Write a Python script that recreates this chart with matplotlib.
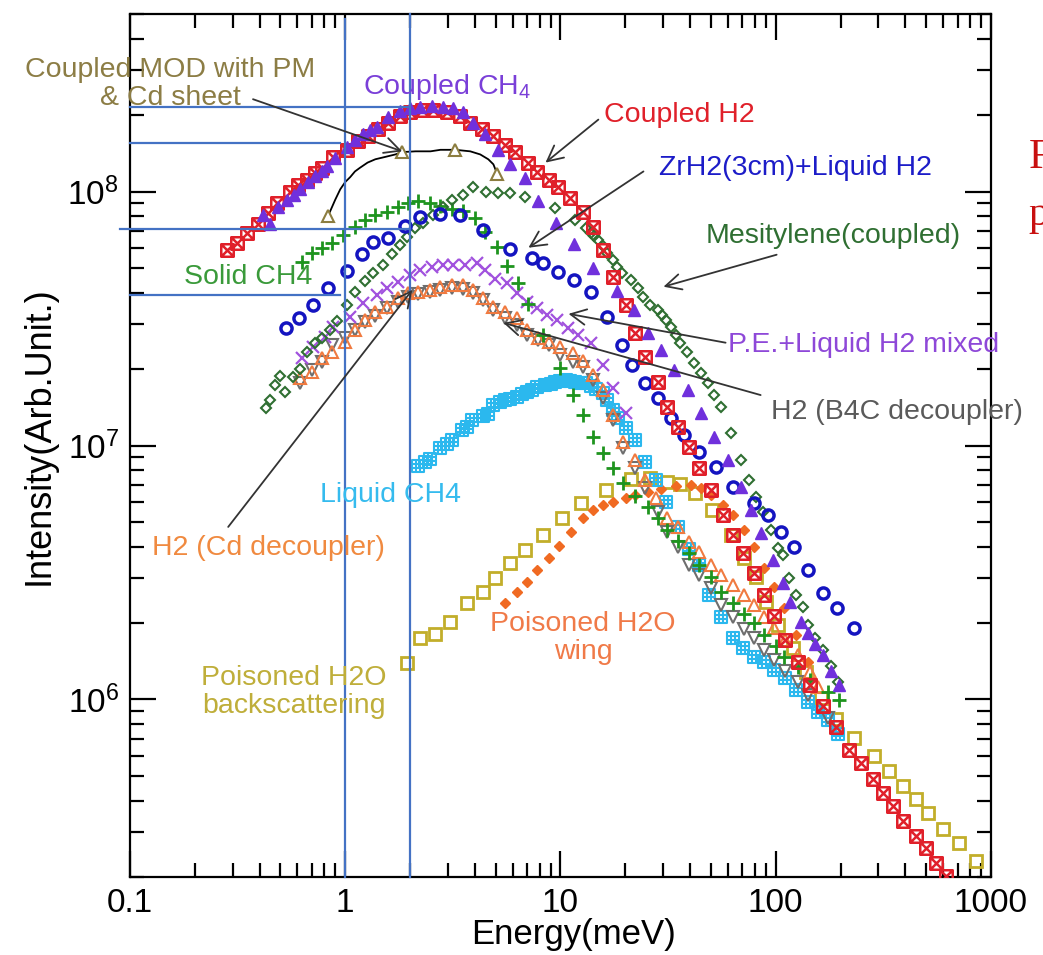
import matplotlib
matplotlib.use("Agg")
import matplotlib.pyplot as plt
from matplotlib.path import Path

plt.rcParams['font.family'] = ['Liberation Sans', 'DejaVu Sans']

# ---- spectra: energy (meV) / intensity (arb. unit) ----
coupled_h2_e = [0.283, 0.315, 0.350, 0.394, 0.438, 0.483, 0.555, 0.604, 0.666, 0.725,
                0.782, 0.880, 1.02, 1.15, 1.28, 1.42, 1.58, 1.80, 2.00, 2.28,
                2.57, 2.98, 3.43, 3.81, 4.34, 4.88, 5.55, 6.18, 7.03, 7.81,
                8.80, 9.79, 11.1, 12.7, 14.1, 15.7, 17.5, 20.1, 22.3, 24.8,
                28.3, 31.1, 35.0, 39.4, 43.8, 49.9, 56.7, 63.1, 70.3, 79.0,
                87.9, 97.9, 111, 127, 145, 166, 190, 219, 248, 283,
                315, 350, 390, 448, 499, 555, 618]
coupled_h2_i = [5.90e7, 6.30e7, 6.89e7, 7.48e7, 8.26e7, 9.05e7, 1.00e8, 1.06e8, 1.11e8, 1.18e8,
                1.24e8, 1.37e8, 1.46e8, 1.58e8, 1.65e8, 1.76e8, 1.87e8, 1.98e8, 2.05e8, 2.09e8,
                2.09e8, 2.05e8, 1.98e8, 1.87e8, 1.76e8, 1.65e8, 1.53e8, 1.43e8, 1.30e8, 1.19e8,
                1.11e8, 1.04e8, 9.47e7, 8.34e7, 7.28e7, 5.90e7, 4.62e7, 3.58e7, 2.78e7, 2.23e7,
                1.78e7, 1.42e7, 1.18e7, 9.87e6, 8.15e6, 6.67e6, 5.32e6, 4.44e6, 3.77e6, 3.14e6,
                2.57e6, 2.14e6, 1.71e6, 1.40e6, 1.14e6, 9.46e5, 7.76e5, 6.30e5, 5.60e5, 4.88e5,
                4.30e5, 3.82e5, 3.33e5, 2.91e5, 2.61e5, 2.28e5, 2.02e5]

coupled_ch4_e = [0.416, 0.448, 0.488, 0.537, 0.579, 0.618, 0.673, 0.725, 0.782, 0.825,
                 0.899, 1.02, 1.11, 1.21, 1.31, 1.41, 1.58, 1.80, 2.00, 2.23,
                 2.54, 2.86, 3.18, 3.54, 3.94, 4.48, 5.15, 5.85, 6.87, 7.90,
                 9.58, 11.6, 14.2, 18.4, 21.9, 25.4, 29.2, 33.6, 39.0, 44.8,
                 51.5, 59.8, 68.8, 76.5, 85.1, 96.8, 108, 117, 131, 142,
                 153, 166, 180, 196]
coupled_ch4_i = [8.11e7, 7.48e7, 8.73e7, 9.29e7, 9.73e7, 1.02e8, 1.09e8, 1.15e8, 1.21e8, 1.26e8,
                 1.36e8, 1.50e8, 1.60e8, 1.68e8, 1.74e8, 1.80e8, 1.96e8, 2.07e8, 2.13e8, 2.16e8,
                 2.18e8, 2.16e8, 2.14e8, 2.05e8, 1.87e8, 1.68e8, 1.46e8, 1.28e8, 1.13e8, 9.14e7,
                 7.55e7, 6.24e7, 5.02e7, 4.07e7, 3.43e7, 2.78e7, 2.38e7, 1.99e7, 1.66e7, 1.34e7,
                 1.08e7, 8.78e6, 6.86e6, 5.57e6, 4.52e6, 3.53e6, 2.87e6, 2.41e6, 2.01e6, 1.82e6,
                 1.66e6, 1.49e6, 1.30e6, 1.14e6]

mod_pm_e = [0.834, 0.899, 0.948, 1.0, 1.055, 1.11, 1.17, 1.27, 1.38, 1.54, 1.71,
            1.84, 2.12, 2.49, 2.77, 3.25, 3.81, 4.24, 4.62, 4.88, 5.09]
mod_pm_i = [8.04e7, 9.29e7, 1.02e8, 1.09e8, 1.14e8, 1.20e8, 1.24e8, 1.30e8, 1.34e8, 1.37e8, 1.40e8,
            1.43e8, 1.44e8, 1.44e8, 1.46e8, 1.46e8, 1.44e8, 1.40e8, 1.34e8, 1.28e8, 1.17e8]
mod_pm_marks = [0, 11, 15, 20]

zrh2_e = [0.532, 0.611, 0.710, 0.834, 1.02, 1.20, 1.35, 1.58, 1.90, 2.23,
          2.77, 3.43, 4.38, 5.85, 7.41, 8.33, 9.79, 11.5, 13.8, 16.5,
          19.4, 21.6, 24.8, 28.3, 32.5, 37.3, 43.8, 52.6, 63.1, 79.0,
          91.8, 106, 121, 141, 166, 192, 231]
zrh2_i = [2.91e7, 3.18e7, 3.58e7, 4.18e7, 4.88e7, 5.69e7, 6.35e7, 6.59e7, 7.35e7, 7.97e7,
          8.19e7, 8.11e7, 7.08e7, 5.96e7, 5.49e7, 5.25e7, 4.83e7, 4.50e7, 4.03e7, 3.21e7,
          2.49e7, 2.08e7, 1.77e7, 1.54e7, 1.28e7, 1.10e7, 9.42e6, 8.22e6, 6.86e6, 5.93e6,
          5.32e6, 4.56e6, 3.98e6, 3.23e6, 2.62e6, 2.29e6, 1.91e6]

mesitylene_e = [0.429, 0.448, 0.472, 0.499, 0.526, 0.573, 0.618, 0.666, 0.725, 0.782,
                0.852, 0.918, 1.02, 1.11, 1.24, 1.35, 1.50, 1.65, 1.80, 1.94,
                2.12, 2.31, 2.57, 2.86, 3.15, 3.54, 3.94, 4.53, 5.15, 5.85,
                6.87, 9.48, 11.7, 13.1, 13.8, 14.3, 14.9, 15.7, 16.5, 17.5,
                18.4, 19.4, 21.2, 22.9, 24.3, 26.2, 28.3, 29.5, 30.8, 32.5,
                34.3, 36.1, 38.6, 41.6, 44.8, 48.3, 51.5, 55.5, 61.8, 68.8,
                74.9, 80.7, 87.0, 94.8, 102, 108, 115, 124, 134, 142,
                153, 166, 180, 194]
mesitylene_i = [1.41e7, 1.51e7, 1.73e7, 1.88e7, 1.63e7, 1.86e7, 2.00e7, 2.34e7, 2.54e7, 2.66e7,
                2.86e7, 3.10e7, 3.58e7, 4.03e7, 4.46e7, 4.79e7, 5.15e7, 5.69e7, 6.18e7, 6.64e7,
                7.21e7, 7.55e7, 8.11e7, 8.73e7, 9.29e7, 9.73e7, 1.04e8, 1.00e8, 9.91e7, 9.91e7,
                9.56e7, 8.65e7, 7.76e7, 7.21e7, 6.89e7, 6.68e7, 6.47e7, 6.12e7, 5.74e7, 5.40e7,
                5.06e7, 4.79e7, 4.50e7, 4.18e7, 3.85e7, 3.58e7, 3.43e7, 3.27e7, 3.12e7, 2.93e7,
                2.73e7, 2.54e7, 2.34e7, 2.11e7, 1.93e7, 1.77e7, 1.58e7, 1.42e7, 1.12e7, 8.78e6,
                7.31e6, 6.27e6, 5.47e6, 4.65e6, 3.94e6, 3.70e6, 3.00e6, 2.57e6, 2.31e6, 1.96e6,
                1.74e6, 1.56e6, 1.36e6, 1.17e6]

solid_ch4_e = [0.631, 0.702, 0.782, 0.870, 0.979, 1.11, 1.24, 1.38, 1.57, 1.75,
               1.96, 2.19, 2.49, 2.77, 3.15, 3.54, 4.02, 4.48, 5.09, 5.67,
               6.38, 7.10, 8.33, 10.0, 11.4, 12.7, 14.1, 15.7, 17.5, 19.6,
               22.3, 25.4, 28.3, 31.4, 35.0, 39.4, 43.8, 49.9, 55.5, 63.1,
               71.0, 79.0, 87.9, 100, 109, 127, 145, 175, 196]
solid_ch4_i = [5.30e7, 5.74e7, 6.01e7, 6.30e7, 6.77e7, 7.28e7, 7.76e7, 8.11e7, 8.34e7, 8.73e7,
               9.05e7, 9.14e7, 9.05e7, 8.81e7, 8.57e7, 8.42e7, 7.89e7, 6.95e7, 6.07e7, 5.11e7,
               4.38e7, 3.61e7, 2.73e7, 2.02e7, 1.58e7, 1.32e7, 1.08e7, 9.33e6, 8.15e6, 7.11e6,
               6.32e6, 5.72e6, 5.17e6, 4.65e6, 4.20e6, 3.77e6, 3.38e6, 3.03e6, 2.64e6, 2.39e6,
               2.18e6, 2.00e6, 1.79e6, 1.63e6, 1.47e6, 1.34e6, 1.19e6, 1.07e6, 9.91e5]

pe_mixed_e = [0.631, 0.710, 0.807, 0.880, 1.055, 1.21, 1.41, 1.57, 1.76, 2.00,
              2.23, 2.54, 2.86, 3.18, 3.61, 4.11, 4.48, 4.98, 5.67, 6.31,
              7.02, 7.81, 8.70, 9.68, 10.8, 12.1, 13.8, 15.7, 17.5, 20.1]
pe_mixed_i = [2.21e7, 2.45e7, 2.68e7, 2.93e7, 3.21e7, 3.65e7, 3.93e7, 4.18e7, 4.42e7, 4.71e7,
              4.92e7, 5.06e7, 5.15e7, 5.15e7, 5.15e7, 5.25e7, 4.92e7, 4.54e7, 4.38e7, 4.00e7,
              3.68e7, 3.49e7, 3.27e7, 3.12e7, 2.90e7, 2.73e7, 2.54e7, 2.08e7, 1.69e7, 1.34e7]

cd_dec_e = [0.618, 0.702, 0.782, 0.870, 1.0, 1.11, 1.24, 1.38, 1.57, 1.76,
            1.96, 2.19, 2.49, 2.77, 3.15, 3.54, 3.94, 4.38, 4.88, 5.55,
            6.31, 7.02, 7.90, 8.80, 10.0, 11.4, 12.7, 14.1, 15.7, 17.5,
            19.6, 22.3, 24.8, 27.7, 31.4, 35.0, 39.4, 43.8, 49.9, 55.5,
            63.1, 71.0, 79.0, 87.9, 97.9, 111, 127, 145, 158]
cd_dec_i = [1.85e7, 1.95e7, 2.21e7, 2.34e7, 2.56e7, 2.86e7, 3.12e7, 3.34e7, 3.52e7, 3.82e7,
            4.00e7, 4.03e7, 4.10e7, 4.22e7, 4.30e7, 4.30e7, 4.10e7, 3.82e7, 3.52e7, 3.37e7,
            3.18e7, 2.86e7, 2.66e7, 2.56e7, 2.45e7, 2.32e7, 2.15e7, 1.90e7, 1.66e7, 1.32e7,
            1.03e7, 8.78e6, 7.31e6, 6.21e6, 5.17e6, 4.78e6, 4.16e6, 3.80e6, 3.38e6, 3.08e6,
            2.82e6, 2.57e6, 2.35e6, 2.11e6, 1.92e6, 1.71e6, 1.49e6, 1.28e6, 1.12e6]

b4c_dec_e = [0.618, 0.702, 0.782, 0.870, 1.0, 1.11, 1.24, 1.38, 1.57, 1.76,
             1.96, 2.19, 2.49, 2.77, 3.15, 3.54, 3.94, 4.38, 4.88, 5.55,
             6.31, 7.02, 7.90, 8.80, 10.0, 11.4, 12.7, 14.1, 15.7, 17.5,
             19.6, 22.3, 24.8, 28.3, 31.4, 35.0, 39.4, 43.8, 49.9, 55.5,
             63.1, 71.0, 79.0, 87.9, 97.9, 111, 127, 142, 175]
b4c_dec_i = [1.76e7, 1.99e7, 2.13e7, 2.49e7, 2.66e7, 2.86e7, 3.07e7, 3.24e7, 3.49e7, 3.68e7,
             3.85e7, 3.96e7, 4.03e7, 4.10e7, 4.18e7, 4.14e7, 4.00e7, 3.75e7, 3.43e7, 3.18e7,
             2.99e7, 2.73e7, 2.61e7, 2.49e7, 2.28e7, 2.13e7, 2.04e7, 1.81e7, 1.54e7, 1.26e7,
             9.77e6, 8.15e6, 6.79e6, 5.47e6, 4.56e6, 3.98e6, 3.38e6, 3.08e6, 2.74e6, 2.35e6,
             2.11e6, 1.89e6, 1.74e6, 1.56e6, 1.43e6, 1.30e6, 1.17e6, 1.04e6, 8.49e5]

liquid_ch4_e = [2.19, 2.36, 2.49, 2.77, 2.98, 3.15, 3.50, 3.69, 3.90, 4.38,
                4.62, 4.88, 5.26, 5.55, 5.85, 6.31, 6.66, 7.02, 7.41, 7.81,
                8.52, 8.99, 9.48, 10.0, 10.6, 11.1, 11.7, 12.4, 13.1, 13.8,
                14.7, 15.7, 16.5, 17.5, 18.6, 20.1, 22.3, 24.8, 27.7, 30.8,
                35.0, 39.4, 43.8, 48.8, 55.5, 63.1, 70.3, 79.0, 87.9, 97.9,
                111, 124, 141, 157, 175, 194]
liquid_ch4_i = [8.30e6, 8.61e6, 8.85e6, 9.77e6, 1.01e7, 1.05e7, 1.15e7, 1.18e7, 1.26e7, 1.31e7,
                1.33e7, 1.44e7, 1.49e7, 1.51e7, 1.52e7, 1.55e7, 1.60e7, 1.63e7, 1.66e7, 1.70e7,
                1.73e7, 1.75e7, 1.78e7, 1.80e7, 1.81e7, 1.80e7, 1.78e7, 1.76e7, 1.76e7, 1.72e7,
                1.67e7, 1.61e7, 1.51e7, 1.38e7, 1.28e7, 1.17e7, 1.05e7, 8.61e6, 7.31e6, 5.98e6,
                4.78e6, 3.91e6, 3.38e6, 2.57e6, 2.11e6, 1.74e6, 1.59e6, 1.47e6, 1.40e6, 1.31e6,
                1.21e6, 1.09e6, 9.73e5, 8.89e5, 8.27e5, 7.34e5]

wing_e = [5.55, 6.31, 7.02, 7.81, 8.80, 9.89, 11.2, 12.7, 14.2, 15.8,
          17.6, 20.1, 22.3, 25.4, 29.2, 34.3, 40.3, 44.8, 49.9, 56.7,
          63.1, 71.0, 79.0, 87.9, 97.9, 109, 124, 141]
wing_i = [2.39e6, 2.64e6, 2.90e6, 3.23e6, 3.60e6, 4.02e6, 4.56e6, 5.17e6, 5.57e6, 5.82e6,
          5.98e6, 6.21e6, 6.38e6, 6.56e6, 6.73e6, 6.92e6, 6.98e6, 6.79e6, 6.38e6, 5.82e6,
          5.32e6, 4.65e6, 3.98e6, 3.29e6, 2.77e6, 2.29e6, 1.79e6, 1.40e6]

backscat_e = [1.94, 2.23, 2.62, 3.08, 3.69, 4.38, 4.98, 5.85, 6.87, 8.33,
              10.2, 12.4, 16.2, 21.2, 26.2, 31.4, 35.8, 42.4, 50.4, 61.8,
              71.0, 80.7, 89.7, 103, 120, 138, 162, 190, 231, 286,
              336, 390, 448, 509, 598, 710, 851]
backscat_i = [1.39e6, 1.74e6, 1.81e6, 2.01e6, 2.39e6, 2.64e6, 3.00e6, 3.44e6, 3.87e6, 4.44e6,
              5.17e6, 5.93e6, 6.67e6, 7.38e6, 7.45e6, 7.18e6, 7.05e6, 6.50e6, 5.57e6, 4.44e6,
              3.60e6, 3.03e6, 2.42e6, 1.96e6, 1.59e6, 1.28e6, 1.01e6, 8.41e5, 7.08e5, 6.01e5,
              5.25e5, 4.58e5, 4.07e5, 3.58e5, 3.10e5, 2.73e5, 2.32e5]

# guide lines drawn over the plot
guide_x = [1.0, 2.0]
guide_x_top = [4.8e8, 5.0e8]
guide_h = [(2.16e8, 0.1, 2.0), (1.55e8, 0.1, 0.95), (7.1e7, 0.09, 2.0), (3.9e7, 0.1, 0.95)]

# custom markers
M, L, C = Path.MOVETO, Path.LINETO, Path.CLOSEPOLY
box_x = Path([(-1, -1), (1, -1), (1, 1), (-1, 1), (-1, -1), (-1, -1), (1, 1), (-1, 1), (1, -1)],
             [M, L, L, L, C, M, L, M, L])
t = 1 / 3
box_hash = Path([(-1, -1), (1, -1), (1, 1), (-1, 1), (-1, -1),
                 (-t, -1), (-t, 1), (t, -1), (t, 1), (-1, -t), (1, -t), (-1, t), (1, t)],
                [M, L, L, L, C, M, L, M, L, M, L, M, L])

fig = plt.figure(figsize=(10.43, 9.55), dpi=100)
ax = fig.add_axes([0.1246, 0.0817, 0.8255, 0.9036])
ax.set_xscale('log')
ax.set_yscale('log')
ax.set_xlim(0.1, 1000)
ax.set_ylim(2e5, 5e8)

ax.plot(backscat_e, backscat_i, ls='none', marker='s', ms=8, mfc='none', mec='#C2AE2A', mew=2, zorder=3)
ax.plot(wing_e, wing_i, ls='none', marker='D', ms=5.5, color='#F06A22', zorder=3)
ax.plot(liquid_ch4_e, liquid_ch4_i, ls='none', marker=box_hash, ms=9, mfc='none', mec='#2BB8EE', mew=1.5, zorder=3)
ax.plot(b4c_dec_e, b4c_dec_i, ls='none', marker='v', ms=9, mfc='none', mec='#6E6E6E', mew=1.5, zorder=3)
ax.plot(cd_dec_e, cd_dec_i, ls='none', marker='^', ms=9, mfc='none', mec='#F07A40', mew=1.5, zorder=3)
ax.plot(pe_mixed_e, pe_mixed_i, ls='none', marker='x', ms=9, color='#A152DE', mew=1.6, zorder=3)
ax.plot(solid_ch4_e, solid_ch4_i, ls='none', marker='+', ms=10, color='#1E941E', mew=2, zorder=3)
ax.plot(mesitylene_e, mesitylene_i, ls='none', marker='D', ms=5, mfc='none', mec='#2F6F32', mew=1.5, zorder=3)
ax.plot(zrh2_e, zrh2_i, ls='none', marker='o', ms=8, mfc='none', mec='#1414C0', mew=2.5, zorder=3)
ax.plot(coupled_h2_e, coupled_h2_i, ls='none', marker=box_x, ms=9, mfc='none', mec='#E0202A', mew=1.8, zorder=4)
ax.plot(coupled_ch4_e, coupled_ch4_i, ls='none', marker='^', ms=9, color='#7030DC', zorder=4)
ax.plot(mod_pm_e, mod_pm_i, color='black', lw=1.3, marker='^', markevery=mod_pm_marks,
        ms=9, mfc='white', mec='#8C7D40', mew=1.5, zorder=5)

for gx, gt in zip(guide_x, guide_x_top):
    ax.plot([gx, gx], [2e5, gt], color='#4472C4', lw=1.6, zorder=6, clip_on=False)
for gy, x0, x1 in guide_h:
    ax.plot([x0, x1], [gy, gy], color='#4472C4', lw=1.6, zorder=6, clip_on=False)

# labels with arrows pointing to curves
arrow = dict(arrowstyle='->', color='#333333', lw=1.3, mutation_scale=28, shrinkA=0, shrinkB=0)
for tail, head in [((0.373, 2.31e8), (1.84, 1.44e8)),
                   ((15.0, 1.92e8), (8.52, 1.30e8)),
                   ((24.3, 1.20e8), (7.10, 6.01e7)),
                   ((101, 5.64e7), (30.1, 4.22e7)),
                   ((58.5, 2.54e7), (10.9, 3.30e7)),
                   ((85.1, 1.58e7), (5.43, 3.04e7)),
                   ((0.286, 4.78e6), (2.05, 4.10e7))]:
    ax.annotate('', xy=head, xytext=tail, arrowprops=arrow, zorder=7)

fs = 20.5
fig.text(0.163, 0.912, 'Coupled MOD with PM\n& Cd sheet', color='#8C7D45', fontsize=fs,
         ha='center', va='center', linespacing=1.1)
fig.text(0.429, 0.909, 'Coupled CH$_\\mathregular{4}$', color='#7A3FD8', fontsize=fs, ha='center', va='center')
fig.text(0.651, 0.880, 'Coupled H2', color='#E0202A', fontsize=fs, ha='center', va='center')
fig.text(0.763, 0.824, 'ZrH2(3cm)+Liquid H2', color='#1C1CC8', fontsize=fs, ha='center', va='center')
fig.text(0.799, 0.753, 'Mesitylene(coupled)', color='#2F6F32', fontsize=fs, ha='center', va='center')
fig.text(0.238, 0.710, 'Solid CH4', color='#3A9A3A', fontsize=fs, ha='center', va='center')
fig.text(0.828, 0.639, 'P.E.+Liquid H2 mixed', color='#8E48D8', fontsize=fs, ha='center', va='center')
fig.text(0.860, 0.569, 'H2 (B4C decoupler)', color='#5A5A5A', fontsize=fs, ha='center', va='center')
fig.text(0.374, 0.482, 'Liquid CH4', color='#35BBEE', fontsize=fs, ha='center', va='center')
fig.text(0.257, 0.426, 'H2 (Cd decoupler)', color='#F08A40', fontsize=fs, ha='center', va='center')
fig.text(0.559, 0.332, 'Poisoned H2O\nwing', color='#F07A48', fontsize=fs, ha='center', va='center',
         linespacing=1.1)
fig.text(0.282, 0.275, 'Poisoned H2O\nbackscattering', color='#BFAE3A', fontsize=fs, ha='center',
         va='center', linespacing=1.1)

# slide text running off the right edge
fig.text(0.986, 0.835, 'F', color='#C81010', fontsize=30, family='Liberation Serif', va='center')
fig.text(0.986, 0.775, 'p', color='#C81010', fontsize=30, family='Liberation Serif', va='center')

ax.set_xlabel('Energy(meV)', fontsize=25)
ax.set_ylabel('Intensity(Arb.Unit.)', fontsize=26)
ax.xaxis.set_label_coords(0.515, -0.047)
ax.yaxis.set_label_coords(-0.085, 0.512)

ax.set_xticks([0.1, 1, 10, 100, 1000])
ax.set_xticklabels(['0.1', '1', '10', '100', '1000'])
ax.tick_params(which='both', direction='in', top=True, right=True, width=1.6, labelsize=24)
ax.tick_params(which='major', length=19, pad=8)
ax.tick_params(which='minor', length=10)
for s in ax.spines.values():
    s.set_linewidth(1.6)

fig.savefig('out.png', dpi=100)
